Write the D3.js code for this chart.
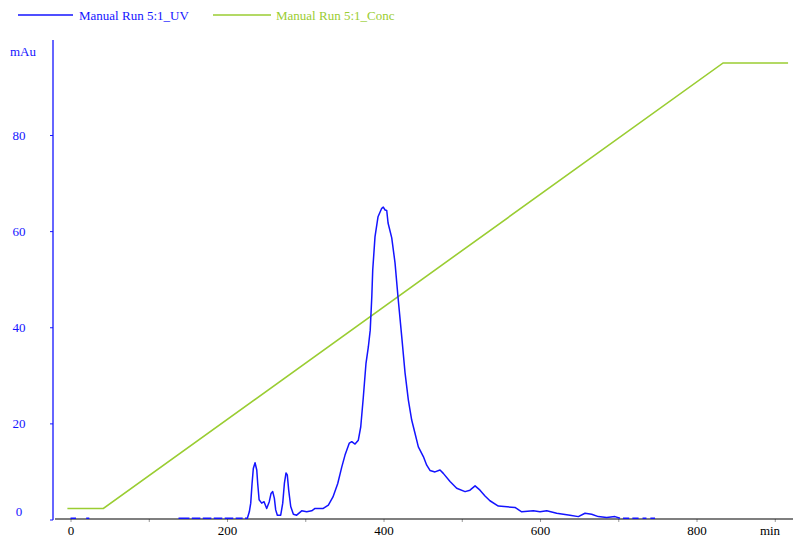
<!DOCTYPE html>
<html><head><meta charset="utf-8">
<script src="https://cdn.jsdelivr.net/npm/d3@7"></script>
<style>
html,body{margin:0;padding:0;background:#fff;}
svg{display:block;}
</style></head>
<body>
<script>
// ---- data ----
const seriesNames = ["Manual Run 5:1_UV", "Manual Run 5:1_Conc"];
const xTicks = [0, 100, 200, 300, 400, 500, 600, 700, 800, 900];
const xTickLabels = ["0", "", "200", "", "400", "", "600", "", "800", ""];
const yTicks = [0, 20, 40, 60, 80];
const yTickLabels = ["0", "20", "40", "60", "80"];
const xUnit = "min";
const yUnit = "mAu";

// UV trace (min, mAu); null = gap in the recorded trace
const uvTime = [0, 7, null, 20, 24, null,
  138, 152, null, 155, 166, null, 169, 180, null, 183, 194, null, 197, 208, null, 211, 220, null,
  223, 226, 228.5, 230.3, 232, 233.6, 235.8, 238, 239.2, 241, 244.3, 247.3, 250.7, 254, 256.2, 258.4,
  260.5, 262.2, 264.3, 268.6, 271.2, 273.3, 275.4, 277, 278.8, 281.4, 284.8, 289, 295.4, 301.8, 308.2,
  312.5, 323, 329.5, 335.4, 341.5, 346.6, 350.8, 356.3, 359.4, 363.6, 367.8, 370.9, 374.2, 377.6, 380.6,
  383, 385, 386.2, 389.1, 393, 397.7, 399.7, 402, 404.1, 405.8, 410.5, 414.7, 418.5, 423.3, 427.5,
  431.7, 436, 440.3, 444.5, 450.9, 455.2, 459.4, 465.8, 472.2, 476.4, 485, 493.5, 504.2, 510.5, 517,
  523.3, 529.7, 536, 546.7, 568, 576.6, 591.5, 600, 608.6, 621.3, 638.3, 649, 657.5, 666, 674.5, 685.2,
  695.8, 702.2, null, 706, 714, null, 718, 726, null, 731, 736, null, 741, 747];
const uvValue = [0.25, 0.25, null, 0.25, 0.25, null,
  0.25, 0.25, null, 0.25, 0.25, null, 0.25, 0.25, null, 0.25, 0.25, null, 0.25, 0.25, null, 0.25, 0.25, null,
  0.25, 0.25, 1.6, 3.4, 7.5, 10.6, 11.8, 10.3, 7.5, 4.1, 3.4, 3.7, 2.3, 3.7, 5.4, 5.8,
  4.4, 2.0, 0.9, 0.9, 3.4, 7.5, 9.7, 9.3, 6.1, 2.7, 1.1, 0.9, 1.8, 1.6, 1.8,
  2.3, 2.3, 3.0, 4.7, 7.5, 10.9, 13.4, 15.9, 16.2, 15.7, 16.5, 19.3, 25.5, 32.5, 35.9,
  39.4, 46.3, 51.9, 58.8, 63.0, 64.75, 65.0, 64.4, 64.3, 61.7, 58.6, 53.4, 46.3, 38.0, 30.5,
  24.9, 20.7, 17.9, 15.1, 13.1, 11.3, 10.2, 9.9, 10.3, 9.6, 7.9, 6.5, 5.8, 6.1, 7.0,
  6.1, 4.9, 3.9, 2.8, 2.5, 1.6, 1.8, 1.6, 1.8, 1.3, 0.9, 0.6, 1.3, 1.1, 0.6, 0.4,
  0.6, 0.25, null, 0.25, 0.25, null, 0.25, 0.25, null, 0.25, 0.25, null, 0.25, 0.25];

// Concentration gradient
const concTime = [-4, 42, 834, 917];
const concValue = [2.3, 2.3, 95, 95];

// ---- drawing ----
const W = 796, H = 538;
const FONT = "'Liberation Serif', 'Times New Roman', serif";
const blue = "#1414ff", green = "#9acd32";
const svg = d3.select("body").append("svg").attr("width", W).attr("height", H);

const x = d3.scaleLinear().domain([-22.4, 923.3]).range([53, 793]);
const y = d3.scaleLinear().domain([0, 100]).range([519.5, 38.9]);

// legend
const legend = svg.append("g");
const legItems = [{name: seriesNames[0], color: blue, x0: 18, x1: 73, tx: 79},
                  {name: seriesNames[1], color: green, x0: 213, x1: 271, tx: 276}];
legItems.forEach(d => {
  legend.append("line").attr("x1", d.x0).attr("x2", d.x1).attr("y1", 15).attr("y2", 15)
    .attr("stroke", d.color).attr("stroke-width", 1.3);
  legend.append("text").attr("x", d.tx).attr("y", 19.5).attr("fill", d.color)
    .attr("font-family", FONT).attr("font-size", 13).text(d.name);
});

// x axis
const xAxis = d3.axisBottom(x).tickValues(xTicks)
  .tickFormat((d, i) => xTickLabels[i]).tickSize(3).tickPadding(4);
const gx = svg.append("g").attr("transform", "translate(0,519)").call(xAxis);
gx.select(".domain").remove();
gx.append("line").attr("x1", 55).attr("x2", 793).attr("stroke", "#000").attr("stroke-width", 1.2);
gx.selectAll(".tick line").attr("stroke", "#999");
gx.selectAll(".tick text").attr("fill", "#000").attr("font-size", 13)
  .attr("font-family", FONT);
svg.append("text").attr("x", 770).attr("y", 535).attr("text-anchor", "middle")
  .attr("font-family", FONT).attr("font-size", 13).attr("fill", "#000").text(xUnit);

// y axis
const yAxis = d3.axisLeft(y).tickValues(yTicks).tickFormat((d, i) => yTickLabels[i]).tickSize(3);
const gy = svg.append("g").attr("transform", "translate(53,0)").call(yAxis);
gy.select(".domain").remove();
gy.append("line").attr("y1", 40).attr("y2", 520).attr("stroke", blue).attr("stroke-width", 1.3);
gy.selectAll(".tick line").attr("stroke", blue);
gy.selectAll(".tick text").attr("fill", blue).attr("font-size", 13)
  .attr("font-family", FONT)
  .attr("text-anchor", "middle").attr("x", -34).attr("dy", "0.32em");
gy.selectAll(".tick").filter(d => d === 0).select("text").attr("dy", "-0.3em");
svg.append("text").attr("x", 23).attr("y", 56).attr("text-anchor", "middle")
  .attr("font-family", FONT).attr("font-size", 13).attr("fill", blue).text(yUnit);

// concentration line
const concData = concTime.map((t, i) => [t, concValue[i]]);
svg.append("path").datum(concData)
  .attr("d", d3.line().x(d => x(d[0])).y(d => y(d[1])))
  .attr("fill", "none").attr("stroke", green).attr("stroke-width", 1.6);

// UV line
const uvData = uvTime.map((t, i) => [t, uvValue[i]]);
svg.append("path").datum(uvData)
  .attr("d", d3.line().defined(d => d[0] !== null && d[1] !== null)
    .x(d => x(d[0])).y(d => y(d[1])))
  .attr("fill", "none").attr("stroke", blue).attr("stroke-width", 1.5)
  .attr("stroke-linejoin", "round");
</script>
</body></html>
